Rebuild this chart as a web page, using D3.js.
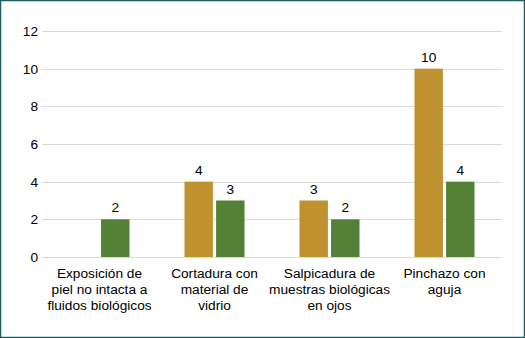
<!DOCTYPE html>
<html>
<head>
<meta charset="utf-8">
<script src="https://cdn.jsdelivr.net/npm/d3@7"></script>
<style>
  body { margin: 0; background: #fff; }
  svg { display: block; font-family: "Liberation Sans", Arial, sans-serif; }
</style>
</head>
<body>
<div id="chart"></div>
<script>
const categories = [
  ["Exposición de", "piel no intacta a", "fluidos biológicos"],
  ["Cortadura con", "material de", "vidrio"],
  ["Salpicadura de", "muestras biológicas", "en ojos"],
  ["Pinchazo con", "aguja"]
];
const seriesA = [0, 4, 3, 10];   // gold
const seriesB = [2, 3, 2, 4];    // green
const yTicks = [0, 2, 4, 6, 8, 10, 12];

const W = 525, H = 338;
const margin = { top: 31, right: 23, bottom: 81, left: 42 },
      width = W - margin.left - margin.right,
      height = H - margin.top - margin.bottom;
const fontSize = "13.7px";

const root = d3.select("#chart").append("svg")
    .attr("width", W)
    .attr("height", H);

// outer border
root.append("rect")
    .attr("x", 0.5).attr("y", 0.5)
    .attr("width", W - 1).attr("height", H - 1)
    .attr("fill", "#fff")
    .attr("stroke", "#1b5e5e")
    .attr("stroke-width", 1.5);

const svg = root.append("g")
    .attr("transform", `translate(${margin.left},${margin.top})`);

const x = d3.scaleBand().domain(d3.range(categories.length)).range([0, width]);
const y = d3.scaleLinear().domain([0, 12]).range([height, 0]);
const sub = d3.scaleBand().domain(["a", "b"]).range([x.bandwidth() / 2 - 30, x.bandwidth() / 2 + 30]).paddingInner(0.1);

// gridlines
svg.append("g")
    .selectAll("line")
    .data(yTicks)
    .enter().append("line")
    .attr("x1", 0).attr("x2", width)
    .attr("y1", d => Math.round(y(d)) + 0.5)
    .attr("y2", d => Math.round(y(d)) + 0.5)
    .attr("stroke", "#d9d9d9")
    .attr("stroke-width", 1);

// Y axis labels
const yAxis = svg.append("g")
    .call(d3.axisLeft(y).tickValues(yTicks).tickSize(0).tickPadding(4));
yAxis.select(".domain").remove();
yAxis.selectAll("text")
    .style("font-size", fontSize)
    .style("fill", "#000")
    .style("font-family", "Liberation Sans, Arial, sans-serif");

// bars
const groups = svg.selectAll(".cat")
    .data(categories.map((c, i) => i))
    .enter().append("g")
    .attr("transform", i => `translate(${x(i)},0)`);

const series = [
  { key: "a", values: seriesA, color: "#c0922f" },
  { key: "b", values: seriesB, color: "#538135" }
];

series.forEach(s => {
  groups.filter(i => s.values[i] > 0).append("rect")
      .attr("x", i => sub(s.key))
      .attr("y", i => y(s.values[i]))
      .attr("width", sub.bandwidth())
      .attr("height", i => height - y(s.values[i]))
      .attr("fill", s.color);

  groups.filter(i => s.values[i] > 0).append("text")
      .attr("x", i => sub(s.key) + sub.bandwidth() / 2)
      .attr("y", i => y(s.values[i]) - 7)
      .attr("text-anchor", "middle")
      .style("font-size", fontSize)
      .text(i => s.values[i]);
});

// baseline
svg.append("line")
    .attr("x1", 0).attr("x2", width)
    .attr("y1", Math.round(height) + 0.5).attr("y2", Math.round(height) + 0.5)
    .attr("stroke", "#d9d9d9");

// X axis labels
groups.append("text")
    .attr("text-anchor", "middle")
    .style("font-size", fontSize)
    .selectAll("tspan")
    .data(i => categories[i])
    .enter().append("tspan")
    .attr("x", x.bandwidth() / 2)
    .attr("y", (d, j) => height + 21 + j * 16)
    .text(d => d);
</script>
</body>
</html>
